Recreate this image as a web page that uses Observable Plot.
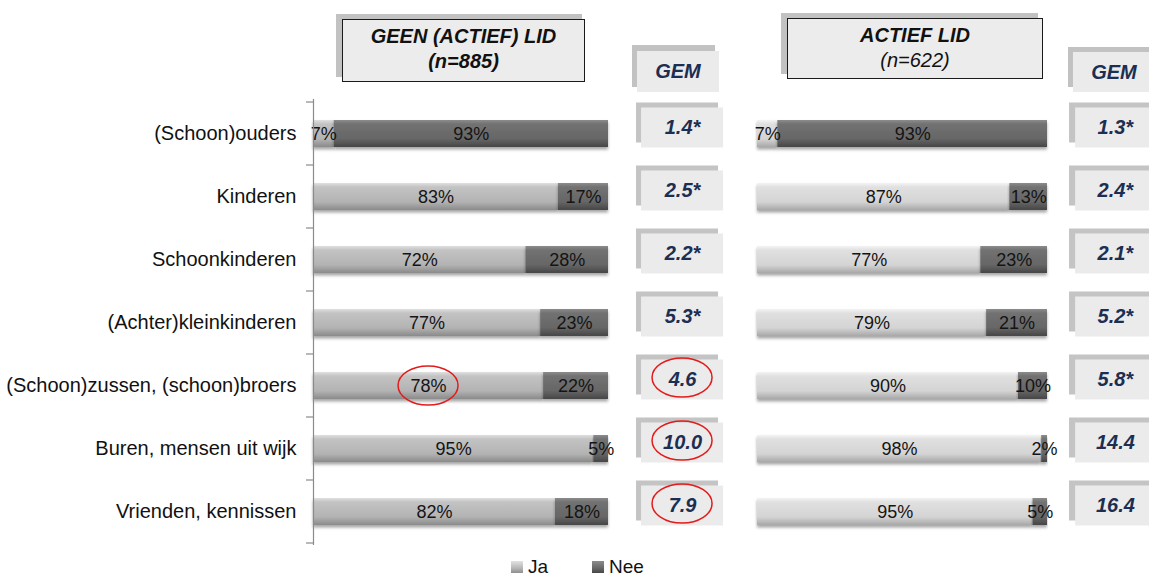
<!DOCTYPE html>
<html><head><meta charset="utf-8">
<script src="https://cdn.jsdelivr.net/npm/d3@7"></script>
<script src="https://cdn.jsdelivr.net/npm/@observablehq/plot@0.6"></script>
<style>
body{margin:0;background:#fff;font-family:"Liberation Sans",Arial,sans-serif;}
#wrap{position:relative;width:1149px;height:578px;overflow:hidden;background:#fff;}
.abs{position:absolute;}
.shadow{background:#c2c2c2;}
.hdr{background:#ececec;border:1.5px solid #1a1a1a;box-sizing:border-box;text-align:center;font-weight:bold;font-style:italic;font-size:20px;line-height:25px;color:#111;padding-top:4px;}
.gem{background:#ebebeb;color:#1c2e52;font-weight:bold;font-style:italic;font-size:20px;display:flex;align-items:center;justify-content:center;}
.leg{font-size:19px;line-height:18px;height:18px;color:#111;display:flex;align-items:center;}
.sw{width:12px;height:12px;margin-right:5px;}
</style>
</head><body>
<div id="wrap"></div>
<script>
// ---- data ----
const categories = ["(Schoon)ouders","Kinderen","Schoonkinderen","(Achter)kleinkinderen","(Schoon)zussen, (schoon)broers","Buren, mensen uit wijk","Vrienden, kennissen"];
const answers = ["Ja","Nee"];
const jaGeen = [7,83,72,77,78,95,82];
const neeGeen = [93,17,28,23,22,5,18];
const jaActief = [7,87,77,79,90,98,95];
const neeActief = [93,13,23,21,10,2,5];
const gemGeen = ["1.4*","2.5*","2.2*","5.3*","4.6","10.0","7.9"];
const gemActief = ["1.3*","2.4*","2.1*","5.2*","5.8*","14.4","16.4"];
const panelTitles = [["GEEN (ACTIEF) LID","(n=885)"],["ACTIEF LID","(n=622)"]];
const gemLabel = "GEM";
const highlightBar = [4];        // Ja-label ellipse, left panel
const highlightGem = [4,5,6];    // GEM ellipses, left panel

const svgNS = "http://www.w3.org/2000/svg";
const wrap = document.getElementById("wrap");

function rowsOf(ja, nee){
  const r = [];
  categories.forEach((c,i)=>{ r.push({cat:c, answer:"Ja", value:ja[i]}); r.push({cat:c, answer:"Nee", value:nee[i]}); });
  return r;
}

function addDefs(svg, id, jaStops){
  const defs = d3.select(svg).insert("defs", ":first-child");
  const mk = (name, stops) => {
    const g = defs.append("linearGradient").attr("id", name).attr("x1",0).attr("y1",0).attr("x2",0).attr("y2",1);
    stops.forEach(([o,c]) => g.append("stop").attr("offset", o).attr("stop-color", c));
  };
  mk("ja"+id, jaStops);
  mk("nee"+id, [[0,"#8c8c8c"],[0.15,"#727272"],[0.7,"#666666"],[1,"#464646"]]);
  const f = defs.append("filter").attr("id","sh"+id).attr("x","-5%").attr("y","-30%").attr("width","110%").attr("height","170%");
  f.append("feDropShadow").attr("dx",0).attr("dy",2.5).attr("stdDeviation",1.6).attr("flood-color","#000").attr("flood-opacity",0.35);
  d3.select(svg).selectAll("rect").filter(function(){ const f=this.getAttribute("fill")||""; return f.startsWith("url(#ja")||f.startsWith("url(#nee"); })
    .attr("filter","url(#sh"+id+")");
}

function bandEdges(y){
  const dom = y.domain(), step = y.step(), bw = y.bandwidth();
  const e = dom.map(c => y(c) + bw/2 - step/2);
  e.push(y(dom[dom.length-1]) + bw/2 + step/2);
  return e;
}

function makePanel(opts){
  const {id, ja, nee, gem, xRange, width, gemBox, gemShadow, gemText, jaStops, axis, ellipses} = opts;
  const rows = rowsOf(ja, nee);
  const marks = [];
  // GEM boxes
  marks.push(Plot.barX(categories, {y: d=>d, x1: gemShadow[0], x2: gemShadow[1], fill:"#c4c4c4", insetTop:-6.5, insetBottom:-6.5, dy:-11}));
  marks.push(Plot.barX(categories, {y: d=>d, x1: gemBox[0], x2: gemBox[1], fill:"#ebebeb", insetTop:-6.5, insetBottom:-6.5, dy:-6}));
  marks.push(Plot.text(categories, {y: d=>d, x: gemText, text:(d,i)=>gem[i], dy:-6, fontWeight:"bold", fontStyle:"italic", fill:"#1c2e52", fontSize:20}));
  // bars
  marks.push(Plot.barX(rows, Plot.stackX({x:"value", y:"cat", fill:"answer"})));
  marks.push(Plot.text(rows, Plot.stackX({x:"value", y:"cat", z:"answer", text:d=>d.value+"%", fill:"#141414", fontSize:18})));
  if (axis){
    marks.push(Plot.ruleX([0], {stroke:"#8a8a8a", strokeWidth:1.2}));
    marks.push(Plot.text(categories, {y:d=>d, x:0, dx:-17, textAnchor:"end", fontSize:20, fill:"#111"}));
    marks.push((index, scales) => {
      const g = document.createElementNS(svgNS, "g");
      const x0 = scales.x(0);
      bandEdges(scales.y).forEach(yy => {
        const l = document.createElementNS(svgNS, "line");
        l.setAttribute("x1", x0-7); l.setAttribute("x2", x0); l.setAttribute("y1", yy); l.setAttribute("y2", yy);
        l.setAttribute("stroke", "#8a8a8a"); l.setAttribute("stroke-width", 1.2);
        g.appendChild(l);
      });
      return g;
    });
  }
  if (ellipses){
    marks.push((index, scales) => {
      const g = document.createElementNS(svgNS, "g");
      const y = scales.y, bw = y.bandwidth();
      const add = (cx, cy) => {
        const e = document.createElementNS(svgNS, "ellipse");
        e.setAttribute("cx", cx); e.setAttribute("cy", cy); e.setAttribute("rx", 30); e.setAttribute("ry", 19.5);
        e.setAttribute("fill", "none"); e.setAttribute("stroke", "#e31b1b"); e.setAttribute("stroke-width", 1.5);
        g.appendChild(e);
      };
      highlightBar.forEach(i => add(scales.x(ja[i]/2), y(categories[i]) + bw/2));
      highlightGem.forEach(i => add(scales.x(gemText), y(categories[i]) + bw/2 - 8));
      return g;
    });
  }
  const svg = Plot.plot({
    width, height: 548, marginTop: 99, marginBottom: 3, marginLeft: xRange[0], marginRight: width - xRange[1],
    style: {fontFamily: '"Liberation Sans", Arial, sans-serif', background: "transparent", overflow: "visible"},
    x: {domain:[0,100], range: xRange, axis: null},
    y: {domain: categories, range:[99,545], paddingInner:0.576, paddingOuter:0.288, axis: null},
    color: {domain: answers, range:["url(#ja"+id+")","url(#nee"+id+")"]},
    marks
  });
  addDefs(svg, id, jaStops);
  return svg;
}

const left = makePanel({id:"L", ja:jaGeen, nee:neeGeen, gem:gemGeen, xRange:[313,608], width:740,
  gemShadow:[109.5,137.3], gemBox:[111.2,139.0], gemText:125.1,
  jaStops:[[0,"#e0e0e0"],[0.15,"#c3c3c3"],[0.7,"#b3b3b3"],[1,"#8a8a8a"]], axis:true, ellipses:true});
left.style.position = "absolute"; left.style.left = "0px"; left.style.top = "0px";
wrap.appendChild(left);

const right = makePanel({id:"R", ja:jaActief, nee:neeActief, gem:gemActief, xRange:[17,307], width:409,
  gemShadow:[107.6,136.2], gemBox:[109.7,137.9], gemText:123.4,
  jaStops:[[0,"#f4f4f4"],[0.15,"#e0e0e0"],[0.7,"#d4d4d4"],[1,"#a8a8a8"]], axis:false, ellipses:false});
right.style.position = "absolute"; right.style.left = "740px"; right.style.top = "0px";
wrap.appendChild(right);

// headers
function box(cls, l, t, w, h, html){
  const d = document.createElement("div");
  d.className = "abs " + cls;
  Object.assign(d.style, {left:l+"px", top:t+"px", width:w+"px", height:h+"px"});
  if (html !== undefined) d.innerHTML = html;
  wrap.appendChild(d);
  return d;
}
box("shadow", 336, 14, 246, 63);
box("hdr", 342, 19, 243, 63, panelTitles[0][0] + "<br>" + panelTitles[0][1]);
box("shadow", 781, 13, 257, 61);
box("hdr", 787, 18, 256, 61, panelTitles[1][0] + "<br><span style='font-weight:normal'>" + panelTitles[1][1] + "</span>");
box("shadow", 632, 45, 83, 42);
box("gem", 637, 51, 82, 41, gemLabel);
box("shadow", 1068, 47, 85, 40);
box("gem", 1073, 52, 82, 40, gemLabel);

// legend
const leg = document.createElement("div");
leg.className = "abs";
Object.assign(leg.style, {left:"511px", top:"558px", display:"flex"});
leg.innerHTML =
  `<div class="leg" style="width:81px"><div class="sw" style="background:linear-gradient(#e2e2e2,#b6b6b6 60%,#8e8e8e)"></div>${answers[0]}</div>` +
  `<div class="leg"><div class="sw" style="background:linear-gradient(#8c8c8c,#676767 60%,#474747)"></div>${answers[1]}</div>`;
wrap.appendChild(leg);
</script>
</body></html>
